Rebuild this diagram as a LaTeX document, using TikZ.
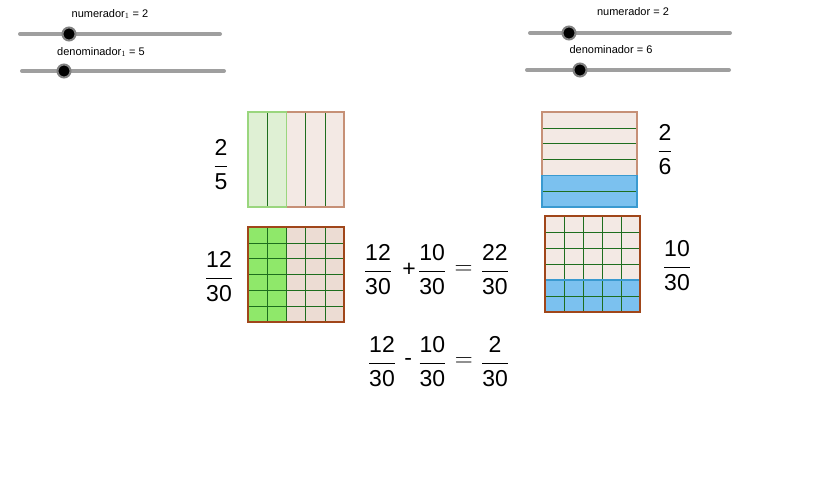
\documentclass[tikz,border=0pt]{standalone}
\usepackage{amsmath}
\usepackage{fontspec}
\setmainfont{Liberation Sans}
\usetikzlibrary{positioning}
\definecolor{lgreen}{HTML}{DFF0D4}
\definecolor{lgreenline}{HTML}{9AD67E}
\definecolor{dgreen}{HTML}{8FE86A}
\definecolor{gridline}{HTML}{1E6E1E}
\definecolor{lbrown}{HTML}{F3E9E4}
\definecolor{mbrown}{HTML}{ECDCD3}
\definecolor{brownline}{HTML}{A0461A}
\definecolor{lblue}{HTML}{7BC1EF}
\definecolor{blueline}{HTML}{3A9AD0}
\newcommand{\fr}[2]{$\dfrac{\rule[-5pt]{0pt}{5pt}\text{#1}}{\rule{0pt}{20pt}\text{#2}}$}
\tikzset{
  slider/.style={line width=4pt, gray!75, line cap=round},
  knob/.style={circle, fill=black, draw=gray, line width=2pt, minimum size=13pt, inner sep=0pt},
  label/.style={font=\fontsize{11}{12}\selectfont, inner sep=0pt},
  frac/.style={font=\fontsize{23}{25}\selectfont, inner sep=0pt},
}
\begin{document}
\begin{tikzpicture}[x=1pt,y=-1pt]
\useasboundingbox (0,0) rectangle (813,492);
% sliders %
\draw[slider] (20,34) -- (220,34);
\node[knob] (k1) at (69,34) {};
\node[label] (l1) at (110,14) {numerador$_1$ = 2};
\draw[slider] (22,71) -- (224,71);
\node[knob] (k2) at (64,71) {};
\node[label] (l2) at (101,52) {denominador$_1$ = 5};
\draw[slider] (530,33) -- (730,33);
\node[knob] (k3) at (569,33) {};
\node[label] (l3) at (633,12) {numerador = 2};
\draw[slider] (527,70) -- (729,70);
\node[knob] (k4) at (580,70) {};
\node[label] (l4) at (611,50) {denominador = 6};
% top left: 2/5 %
\fill[lbrown] (248,112) rectangle (344,207);
\fill[lgreen] (248,112) rectangle (286.4,207);
\foreach \i in {1,...,4} \draw[gridline, line width=0.6pt] (248+19.2*\i,112) -- (248+19.2*\i,207);
\draw[brownline!60, line width=1.2pt] (286.4,112) -| (344,207) -- (286.4,207);
\draw[lgreenline, line width=1.2pt] (286.4,112) -- (248,112) -- (248,207) -- (286.4,207) -- cycle;
% bottom left: 12/30 %
\fill[mbrown] (248,227) rectangle (344,322);
\fill[dgreen] (248,227) rectangle (286.4,322);
\foreach \i in {1,...,4} \draw[gridline, line width=0.6pt] (248+19.2*\i,227) -- (248+19.2*\i,322);
\foreach \j in {1,...,5} \draw[gridline, line width=0.6pt] (248,227+15.83*\j) -- (344,227+15.83*\j);
\draw[brownline, line width=1.3pt] (248,227) rectangle (344,322);
% top right: 2/6 %
\fill[lbrown] (542,112) rectangle (637,175.3);
\fill[lblue] (542,175.3) rectangle (637,207);
\foreach \j in {1,...,5} \draw[gridline, line width=0.6pt] (542,112+15.83*\j) -- (637,112+15.83*\j);
\draw[brownline!60, line width=1.2pt] (542,175.3) |- (637,112) -- (637,175.3);
\draw[blueline, line width=1.2pt] (542,175.3) rectangle (637,207);
% bottom right: 10/30 %
\fill[lbrown] (545,216) rectangle (640,280);
\fill[lblue] (545,280) rectangle (640,312);
\foreach \i in {1,...,4} \draw[gridline, line width=0.6pt] (545+19*\i,216) -- (545+19*\i,312);
\foreach \j in {1,...,5} \draw[gridline, line width=0.6pt] (545,216+16*\j) -- (640,216+16*\j);
\draw[blueline, line width=1.2pt] (545,280) -- (640,280);
\draw[brownline, line width=1.2pt] (545,216) rectangle (640,312);
% fractions %
\node[frac] (f25) at (221,165) {\fr{2}{5}};
\node[frac] (f1230) at (219,277) {\fr{12}{30}};
\node[frac] (f26) at (665,150) {\fr{2}{6}};
\node[frac] (f1030) at (677,266) {\fr{10}{30}};
% equations %
\node[frac] (a1) at (378,270) {\fr{12}{30}};
\node[frac, right=10pt of a1] (plus) {+};
\node[frac, right=2pt of plus] (a2) {\fr{10}{30}};
\node[frac, right=8pt of a2] (eq1) {$=$};
\node[frac, right=8pt of eq1] (a3) {\fr{22}{30}};
\node[frac] (b1) at (382,362) {\fr{12}{30}};
\node[frac, right=8pt of b1] (minus) {-};
\node[frac, right=6pt of minus] (b2) {\fr{10}{30}};
\node[frac, right=8pt of b2] (eq2) {$=$};
\node[frac, right=8pt of eq2] (b3) {\fr{2}{30}};
\end{tikzpicture}
\end{document}
